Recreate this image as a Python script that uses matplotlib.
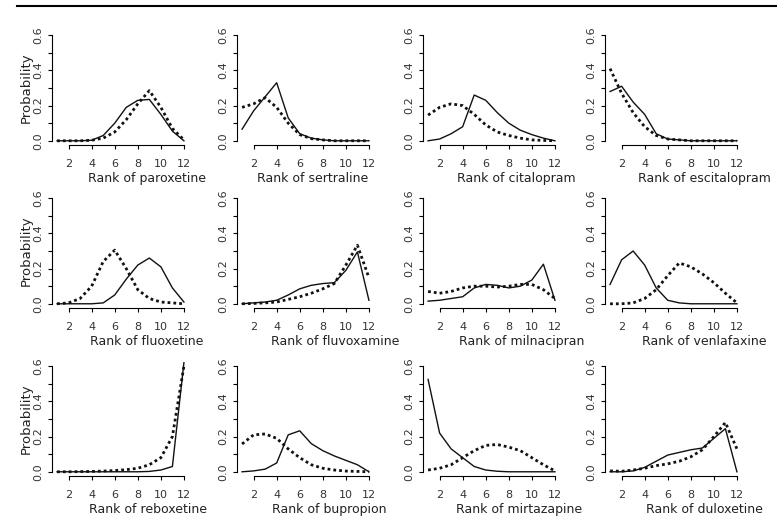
import numpy as np
import matplotlib
matplotlib.use('Agg')
import matplotlib.pyplot as plt

ranks = np.arange(1, 13)

drugs = ['paroxetine', 'sertraline', 'citalopram', 'escitalopram',
         'fluoxetine', 'fluvoxamine', 'milnacipran', 'venlafaxine',
         'reboxetine', 'bupropion', 'mirtazapine', 'duloxetine']

# solid line
solid = {
    'paroxetine':   [0, 0, 0, 0.003, 0.03, 0.1, 0.19, 0.23, 0.235, 0.15, 0.055, 0.0],
    'sertraline':   [0.066, 0.17, 0.25, 0.33, 0.13, 0.04, 0.015, 0.005, 0, 0, 0, 0],
    'citalopram':   [0.0, 0.01, 0.04, 0.08, 0.26, 0.23, 0.16, 0.1, 0.06, 0.035, 0.015, 0.0],
    'escitalopram': [0.28, 0.31, 0.22, 0.15, 0.04, 0.01, 0.005, 0, 0, 0, 0, 0],
    'fluoxetine':   [0, 0, 0, 0, 0.005, 0.05, 0.14, 0.22, 0.26, 0.21, 0.09, 0.01],
    'fluvoxamine':  [0, 0.005, 0.01, 0.02, 0.05, 0.085, 0.105, 0.115, 0.12, 0.19, 0.295, 0.02],
    'milnacipran':  [0.015, 0.02, 0.03, 0.04, 0.09, 0.11, 0.105, 0.09, 0.1, 0.135, 0.225, 0.02],
    'venlafaxine':  [0.11, 0.25, 0.30, 0.22, 0.09, 0.02, 0.005, 0, 0, 0, 0, 0],
    'reboxetine':   [0, 0, 0, 0, 0, 0, 0, 0, 0.002, 0.01, 0.03, 0.62],
    'bupropion':    [0.0, 0.005, 0.015, 0.05, 0.21, 0.233, 0.16, 0.12, 0.09, 0.065, 0.04, 0.0],
    'mirtazapine':  [0.525, 0.22, 0.13, 0.08, 0.03, 0.01, 0.003, 0, 0, 0, 0, 0],
    'duloxetine':   [0, 0, 0.005, 0.025, 0.06, 0.095, 0.11, 0.125, 0.135, 0.19, 0.245, 0.0],
}

# dotted line
dotted = {
    'paroxetine':   [0, 0, 0, 0.003, 0.015, 0.05, 0.12, 0.21, 0.285, 0.19, 0.07, 0.005],
    'sertraline':   [0.19, 0.21, 0.245, 0.19, 0.1, 0.035, 0.012, 0.005, 0, 0, 0, 0],
    'citalopram':   [0.146, 0.19, 0.21, 0.2, 0.15, 0.09, 0.05, 0.03, 0.015, 0.005, 0.002, 0.0],
    'escitalopram': [0.41, 0.27, 0.16, 0.08, 0.03, 0.01, 0.005, 0, 0, 0, 0, 0],
    'fluoxetine':   [0.0, 0.005, 0.03, 0.1, 0.24, 0.305, 0.2, 0.08, 0.03, 0.01, 0.005, 0.0],
    'fluvoxamine':  [0, 0.002, 0.005, 0.01, 0.025, 0.04, 0.06, 0.085, 0.115, 0.22, 0.333, 0.148],
    'milnacipran':  [0.07, 0.06, 0.07, 0.09, 0.1, 0.1, 0.095, 0.1, 0.11, 0.11, 0.08, 0.03],
    'venlafaxine':  [0.0, 0.0, 0.005, 0.03, 0.08, 0.16, 0.232, 0.21, 0.17, 0.12, 0.06, 0.005],
    'reboxetine':   [0, 0, 0.001, 0.002, 0.004, 0.007, 0.012, 0.02, 0.04, 0.08, 0.2, 0.6],
    'bupropion':    [0.158, 0.21, 0.215, 0.19, 0.13, 0.08, 0.04, 0.02, 0.01, 0.004, 0.002, 0.0],
    'mirtazapine':  [0.01, 0.02, 0.04, 0.08, 0.12, 0.15, 0.155, 0.14, 0.12, 0.08, 0.04, 0.005],
    'duloxetine':   [0.005, 0.003, 0.01, 0.02, 0.035, 0.045, 0.06, 0.085, 0.125, 0.2, 0.28, 0.13],
}

W, H = 777, 519
fig = plt.figure(figsize=(W / 100, H / 100), dpi=100)

# top rule
fig.add_artist(plt.Line2D([17 / W, 1.0], [1 - 6 / H, 1 - 6 / H], color='black', lw=1.5))

lefts = [52, 237, 423, 605]
tops = [31, 194, 362]
aw, ah = 137, 114
# x label centres (pixels) are shifted right of the axes in the original
label_x = [[147, 313, 516, 704],
           [147, 335, 522, 704],
           [148, 329, 519, 704]]

for i, drug in enumerate(drugs):
    r, c = divmod(i, 4)
    ax = fig.add_axes([lefts[c] / W, 1 - (tops[r] + ah) / H, aw / W, ah / H])
    ax.plot(ranks, solid[drug], color='#111111', lw=1.0)
    ax.plot(ranks, dotted[drug], color='#111111', lw=2.0, linestyle=(0, (1, 1.1)),
            dash_capstyle='butt')
    ax.set_xlim(1 - 0.44, 12 + 0.44)
    ax.set_ylim(-0.024, 0.624)
    for s in ['top', 'right']:
        ax.spines[s].set_visible(False)
    ax.spines['bottom'].set_bounds(2, 12)
    ax.spines['left'].set_bounds(0, 0.6)
    ax.set_xticks([2, 4, 6, 8, 10, 12])
    ax.set_yticks([0, 0.1, 0.2, 0.3, 0.4, 0.5, 0.6])
    ax.set_yticklabels(['0.0', '', '0.2', '', '0.4', '', '0.6'], rotation=90, va='center')
    ax.tick_params(axis='both', length=3, width=0.8, labelsize=8, pad=3, labelcolor='#333333')
    ax.tick_params(axis='x', pad=7)
    ax.set_xlabel('Rank of ' + drug, fontsize=9, labelpad=3, color='#222222')
    ax.xaxis.set_label_coords((label_x[r][c] - lefts[c]) / aw, -0.24)
    ax.xaxis.label.set_va('top')
    if c == 0:
        ax.set_ylabel('Probability', fontsize=9.5, labelpad=1, color='#222222')

fig.savefig('out.png', dpi=100)
